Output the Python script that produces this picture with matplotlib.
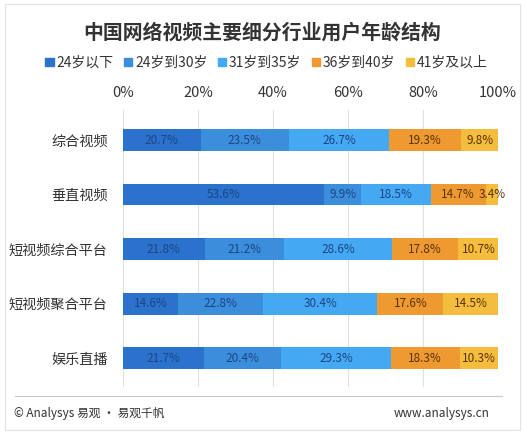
import matplotlib.pyplot as plt
import matplotlib.patches as mpatches
from matplotlib.lines import Line2D
import numpy as np

plt.rcParams['font.family'] = ['Noto Sans CJK SC', 'DejaVu Sans']

categories = ['综合视频', '垂直视频', '短视频综合平台', '短视频聚合平台', '娱乐直播']
series_names = ['24岁以下', '24岁到30岁', '31岁到35岁', '36岁到40岁', '41岁及以上']
under24 = [20.7, 53.6, 21.8, 14.6, 21.7]
age24_30 = [23.5, 9.9, 21.2, 22.8, 20.4]
age31_35 = [26.7, 18.5, 28.6, 30.4, 29.3]
age36_40 = [19.3, 14.7, 17.8, 17.6, 18.3]
over41 = [9.8, 3.4, 10.7, 14.5, 10.3]
ticks = [0, 20, 40, 60, 80, 100]

series = [under24, age24_30, age31_35, age36_40, over41]
colors = ['#2a72cb', '#3b8edc', '#45a8f3', '#ef9a31', '#f4bd3d']
text_colors = ['#1d4585', '#1d4585', '#1d4585', '#5a3208', '#5a3208']

fig = plt.figure(figsize=(5.3, 4.34), dpi=100)
ax = fig.add_axes([0.232, 0.108, 0.708, 0.6385])

y = np.arange(len(categories))
left = np.zeros(len(categories))
for vals, name, c, tc in zip(series, series_names, colors, text_colors):
    vals = np.array(vals)
    ax.barh(y, vals, left=left, height=0.4, color=c, label=name, zorder=2)
    for yi, l, v in zip(y, left, vals):
        ax.text(l + v / 2, yi, f'{v:.1f}%', ha='center', va='center',
                fontsize=8.5, color=tc, zorder=3)
    left = left + vals

ax.set_xlim(0, 100)
ax.set_ylim(4.53, -0.55)
ax.set_xticks(ticks)
ax.set_xticklabels([f'{t}%' for t in ticks], fontsize=10.5, color='#333333')
ax.xaxis.tick_top()
ax.tick_params(axis='x', length=0, pad=7)
ax.set_yticks(y)
ax.set_yticklabels(categories, fontsize=10.2, color='#333333')
ax.tick_params(axis='y', length=0, pad=11)
ax.grid(axis='x', color='#e0e0e0', linewidth=0.8, zorder=0)
for s in ax.spines.values():
    s.set_visible(False)

fig.text(0.495, 0.926, '中国网络视频主要细分行业用户年龄结构', ha='center', va='center',
         fontsize=14.3, fontweight='bold', color='#333333')

handles = [mpatches.Patch(color=c, label=n) for c, n in zip(colors, series_names)]
fig.legend(handles=handles, loc='center', bbox_to_anchor=(0.503, 0.855), ncol=5,
           frameon=False, fontsize=10, handlelength=0.6, handleheight=0.6,
           handletextpad=0.2, columnspacing=0.75, labelcolor='#333333')

# footer
fig.add_artist(Line2D([15 / 530, 502 / 530], [1 - 396 / 434, 1 - 396 / 434],
                      color='#c8c8c8', linewidth=0.8))
fig.text(14 / 530, 1 - 413 / 434, '© Analysys 易观 · 易观千帆', ha='left', va='center',
         fontsize=8.5, color='#333333')
fig.text(490 / 530, 1 - 413 / 434, 'www.analysys.cn', ha='right', va='center',
         fontsize=8.5, color='#333333')
fig.add_artist(mpatches.Rectangle((5 / 530, 4 / 434), 515 / 530, 426 / 434,
                                  fill=False, edgecolor='#e2e2e2', linewidth=0.8,
                                  transform=fig.transFigure))

fig.savefig('out.png', dpi=100)
